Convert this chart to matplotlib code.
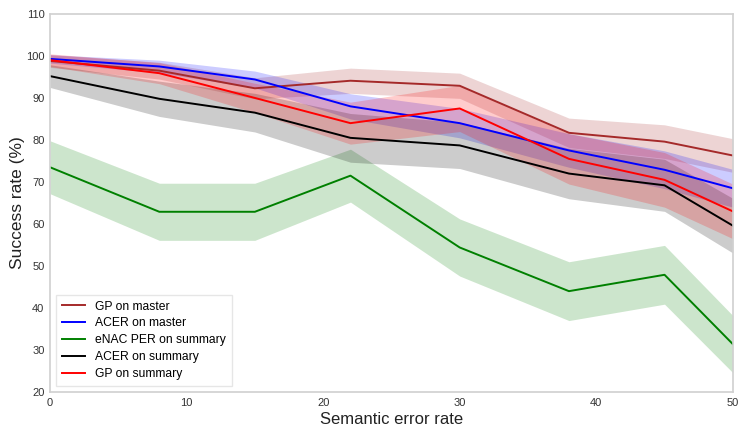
import numpy as np
import matplotlib.pyplot as plt

plt.rcParams['font.family'] = ['Liberation Sans', 'DejaVu Sans']

err = np.array([0, 8, 15, 22, 30, 38, 45, 50])

gp_master = np.array([98.8, 96.5, 92.3, 94.1, 92.9, 81.7, 79.6, 76.3])
gp_master_sd = np.array([1.5, 2.0, 2.5, 3.0, 3.0, 3.5, 4.0, 4.0])

acer_master = np.array([99.3, 97.5, 94.4, 88.0, 84.0, 77.5, 72.9, 68.5])
acer_master_sd = np.array([1.0, 1.5, 2.0, 3.0, 3.5, 4.0, 4.5, 4.5])

enac_summary = np.array([73.5, 62.9, 62.9, 71.5, 54.4, 44.0, 47.9, 31.4])
enac_summary_sd = np.array([6.3, 6.8, 6.8, 6.3, 6.8, 7.0, 7.0, 6.8])

acer_summary = np.array([95.2, 89.8, 86.5, 80.5, 78.7, 72.0, 69.2, 59.6])
acer_summary_sd = np.array([2.7, 4.2, 4.6, 5.8, 5.5, 6.0, 6.2, 6.5])

gp_summary = np.array([99.0, 95.9, 90.0, 84.0, 87.5, 75.5, 70.5, 63.0])
gp_summary_sd = np.array([1.5, 2.5, 3.5, 5.0, 5.5, 6.0, 6.5, 6.5])

series = [
    ("GP on master", gp_master, gp_master_sd, "brown"),
    ("ACER on master", acer_master, acer_master_sd, "blue"),
    ("eNAC PER on summary", enac_summary, enac_summary_sd, "green"),
    ("ACER on summary", acer_summary, acer_summary_sd, "black"),
    ("GP on summary", gp_summary, gp_summary_sd, "red"),
]

fig = plt.figure(figsize=(7.47, 4.36), dpi=100)
ax = fig.add_axes([0.067, 0.101, 0.914, 0.867])

for name, m, sd, c in series:
    ax.plot(err, m, color=c, lw=1.4, label=name)
    ax.fill_between(err, m - sd, m + sd, color=c, alpha=0.2, lw=0)

ax.set_xlim(0, 50)
ax.set_ylim(20, 110)
ax.set_xticks(np.arange(0, 51, 10))
ax.set_yticks(np.arange(20, 111, 10))
ax.tick_params(length=0, labelsize=8, colors="#333333", pad=4)
for s in ax.spines.values():
    s.set_color("#d0d0d0")
    s.set_linewidth(1.2)

ax.set_xlabel("Semantic error rate", fontsize=12, color="#222222", labelpad=3)
ax.set_ylabel("Success rate (%)", fontsize=12.5, color="#222222", labelpad=1)

leg = ax.legend(loc="lower left", fontsize=8.7, frameon=True, fancybox=False,
                borderpad=0.5, handlelength=1.9, labelspacing=0.4)
leg.get_frame().set_edgecolor("#e0e0e0")

plt.savefig("out.png", dpi=100)
